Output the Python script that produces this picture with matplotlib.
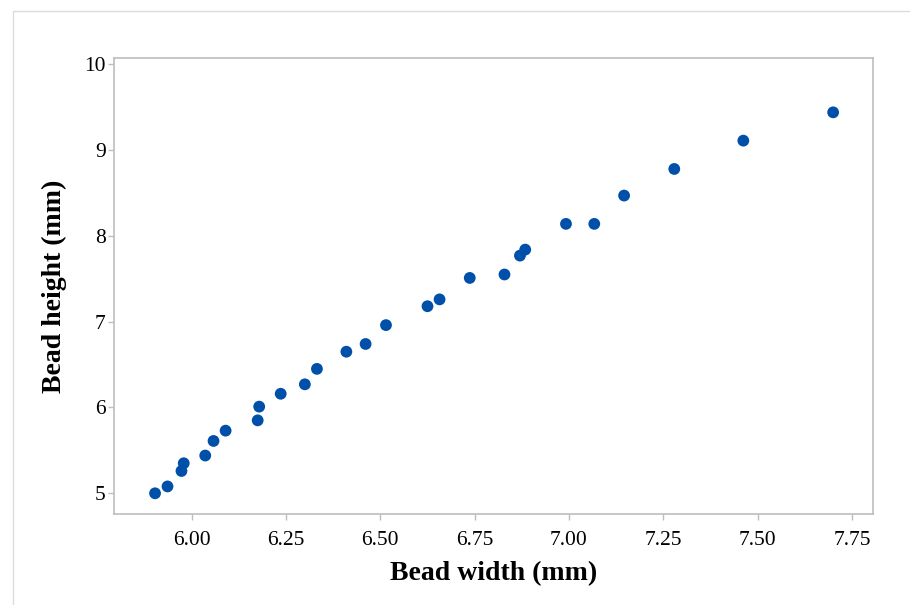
import matplotlib.pyplot as plt
from matplotlib.patches import Rectangle

# bead geometry measurements
bead_width = [5.903, 5.936, 5.973, 5.979, 6.036, 6.058, 6.090, 6.175, 6.179,
              6.236, 6.300, 6.332, 6.410, 6.461, 6.515, 6.625, 6.657, 6.737,
              6.829, 6.870, 6.884, 6.992, 7.067, 7.146, 7.279, 7.462, 7.700]
bead_height = [5.00, 5.08, 5.26, 5.35, 5.44, 5.61, 5.73, 5.85, 6.01,
               6.16, 6.27, 6.45, 6.65, 6.74, 6.96, 7.18, 7.26, 7.51,
               7.55, 7.77, 7.84, 8.14, 8.14, 8.47, 8.78, 9.11, 9.44]
x_ticks = [6.00, 6.25, 6.50, 6.75, 7.00, 7.25, 7.50, 7.75]
y_ticks = [5, 6, 7, 8, 9, 10]

plt.rcParams['font.family'] = ['Liberation Serif', 'DejaVu Serif']

fig = plt.figure(figsize=(9.1, 6.05), dpi=100)
# light frame around the whole panel
fig.patches.append(Rectangle((12.5 / 910, -0.1), 1.2, 1 - 11 / 605 + 0.1,
                             transform=fig.transFigure, fill=False,
                             edgecolor='#dcdcdc', linewidth=1))

ax = fig.add_axes([0.1256, 0.1499, 0.8341, 0.7542])
ax.scatter(bead_width, bead_height, s=72, color='#0050aa', edgecolors='none', zorder=3)

ax.set_xlim(5.795, 7.8065)
ax.set_ylim(4.755, 10.073)
ax.set_xticks(x_ticks)
ax.set_xticklabels([f"{v:.2f}" for v in x_ticks])
ax.set_yticks(y_ticks)

for side in ax.spines.values():
    side.set_color('#bdbdbd')
    side.set_linewidth(1.2)
ax.tick_params(axis='both', colors='#bdbdbd', length=4.3, width=1, labelsize=15.5,
               labelcolor='black')
ax.tick_params(axis='x', pad=8)
ax.tick_params(axis='y', pad=2)

ax.set_xlabel("Bead width (mm)", fontsize=20, fontweight='bold', va='center')
ax.set_ylabel("Bead height (mm)", fontsize=20, fontweight='bold', va='center')
ax.xaxis.set_label_coords(0.5, -0.131)
ax.yaxis.set_label_coords(-0.0794, 0.5)

fig.savefig("out.png", dpi=100)
